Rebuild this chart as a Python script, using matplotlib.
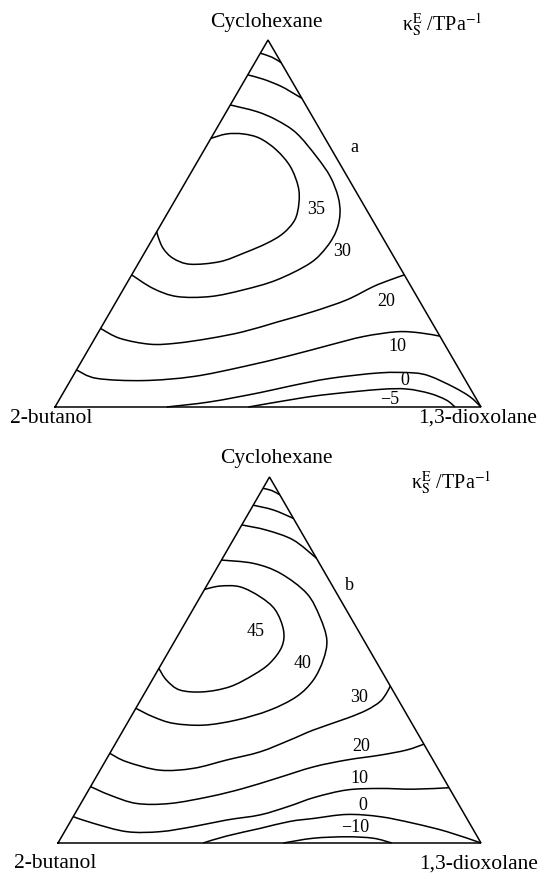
import numpy as np
import matplotlib
matplotlib.use("Agg")
import matplotlib.pyplot as plt
from matplotlib.path import Path
from matplotlib.patches import PathPatch

plt.rcParams['font.family'] = ['Liberation Serif', 'DejaVu Serif']
plt.rcParams['mathtext.fontset'] = 'stix'

# ---------------- data: contour lines as (cyclohexane, 1,3-dioxolane) mole fractions ----------------
# panel a
a_u1_cyc = [0.964, 0.953, 0.938]
a_u1_dio = [0.000, 0.033, 0.062]
a_u2_cyc = [0.905, 0.893, 0.875, 0.860, 0.841]
a_u2_dio = [0.000, 0.043, 0.091, 0.122, 0.159]
a_30_cyc = [0.823, 0.805, 0.782, 0.746, 0.682, 0.628, 0.573, 0.528, 0.482, 0.437, 0.392,
            0.346, 0.319, 0.301, 0.301, 0.323, 0.360]
a_30_dio = [0.000, 0.071, 0.129, 0.194, 0.273, 0.332, 0.378, 0.405, 0.420, 0.420, 0.403,
            0.347, 0.282, 0.214, 0.136, 0.069, 0.000]
a_35_cyc = [0.732, 0.744, 0.744, 0.732, 0.700, 0.655, 0.600, 0.555, 0.510, 0.473, 0.446,
            0.419, 0.396, 0.389, 0.405, 0.432, 0.464, 0.478]
a_35_dio = [0.000, 0.031, 0.070, 0.115, 0.170, 0.225, 0.271, 0.295, 0.308, 0.299, 0.274,
            0.233, 0.189, 0.123, 0.075, 0.038, 0.010, 0.000]
a_20_cyc = [0.214, 0.187, 0.171, 0.174, 0.187, 0.205, 0.232, 0.260, 0.292, 0.328, 0.346, 0.360]
a_20_dio = [0.000, 0.059, 0.138, 0.199, 0.270, 0.339, 0.407, 0.476, 0.539, 0.583, 0.613, 0.640]
a_10_cyc = [0.101, 0.078, 0.072, 0.083, 0.110, 0.140, 0.169, 0.192, 0.205, 0.202, 0.193]
a_10_dio = [0.000, 0.059, 0.171, 0.283, 0.387, 0.481, 0.561, 0.628, 0.700, 0.756, 0.807]
a_0_cyc = [0.000, 0.014, 0.039, 0.057, 0.078, 0.093, 0.093, 0.084, 0.055, 0.028, 0.000]
a_0_dio = [0.262, 0.357, 0.461, 0.523, 0.607, 0.716, 0.794, 0.838, 0.907, 0.960, 1.000]
a_m5_cyc = [0.000, 0.024, 0.035, 0.048, 0.049, 0.037, 0.019, 0.000]
a_m5_dio = [0.454, 0.563, 0.628, 0.739, 0.801, 0.861, 0.909, 0.939]

# panel b
b_u1_cyc = [0.969, 0.963, 0.951]
b_u1_dio = [0.000, 0.024, 0.049]
b_u2_cyc = [0.923, 0.910, 0.887]
b_u2_dio = [0.000, 0.054, 0.113]
b_u3_cyc = [0.869, 0.855, 0.828, 0.778]
b_u3_dio = [0.000, 0.065, 0.142, 0.222]
b_40_cyc = [0.773, 0.764, 0.737, 0.682, 0.618, 0.555, 0.500, 0.445, 0.400, 0.363, 0.336,
            0.322, 0.327, 0.345, 0.368]
b_40_dio = [0.000, 0.080, 0.157, 0.247, 0.310, 0.358, 0.377, 0.381, 0.364, 0.319, 0.254,
            0.183, 0.109, 0.052, 0.000]
b_45_cyc = [0.693, 0.702, 0.700, 0.673, 0.637, 0.582, 0.536, 0.491, 0.459, 0.427, 0.413,
            0.418, 0.445, 0.477]
b_45_dio = [0.000, 0.032, 0.080, 0.141, 0.195, 0.242, 0.261, 0.255, 0.232, 0.193, 0.137,
            0.079, 0.034, 0.000]
b_30_cyc = [0.245, 0.222, 0.199, 0.204, 0.227, 0.249, 0.281, 0.309, 0.341, 0.363, 0.386, 0.409, 0.429]
b_30_dio = [0.000, 0.051, 0.141, 0.218, 0.286, 0.353, 0.407, 0.450, 0.513, 0.548, 0.568, 0.572, 0.571]
b_20_cyc = [0.154, 0.131, 0.108, 0.108, 0.127, 0.149, 0.177, 0.208, 0.227, 0.240, 0.254, 0.270]
b_20_dio = [0.000, 0.057, 0.132, 0.211, 0.296, 0.363, 0.429, 0.500, 0.570, 0.641, 0.697, 0.730]
b_10_cyc = [0.072, 0.054, 0.031, 0.031, 0.045, 0.063, 0.077, 0.100, 0.125, 0.145, 0.149, 0.147, 0.151]
b_10_dio = [0.000, 0.056, 0.147, 0.226, 0.298, 0.368, 0.440, 0.495, 0.545, 0.611, 0.686, 0.767, 0.849]
b_0_cyc = [0.000, 0.019, 0.040, 0.059, 0.067, 0.078, 0.072, 0.054, 0.031, 0.000]
b_0_dio = [0.343, 0.389, 0.458, 0.519, 0.570, 0.644, 0.725, 0.813, 0.904, 1.000]
b_m10_cyc = [0.000, 0.013, 0.017, 0.013, 0.000]
b_m10_dio = [0.533, 0.597, 0.674, 0.739, 0.789]

components = ["Cyclohexane", "2-butanol", "1,3-dioxolane"]
a_levels = ["35", "30", "20", "10", "0", "\u22125"]
b_levels = ["45", "40", "30", "20", "10", "0", "\u221210"]

# ---------------- drawing ----------------
W, H = 540, 876
fig = plt.figure(figsize=(W / 100, H / 100), dpi=100)


def to_xy(cyc, dio):
    cyc = np.asarray(cyc, float)
    dio = np.asarray(dio, float)
    return dio + cyc / 2.0, cyc


def smooth_path(x, y):
    P = np.column_stack([x, y])
    n = len(P)
    Pe = np.vstack([P[0], P, P[-1]])
    verts = [P[0]]
    codes = [Path.MOVETO]
    for i in range(n - 1):
        p0, p1, p2, p3 = Pe[i], Pe[i + 1], Pe[i + 2], Pe[i + 3]
        verts += [p1 + (p2 - p0) / 6.0, p2 - (p3 - p1) / 6.0, p2]
        codes += [Path.CURVE4] * 3
    return Path(verts, codes)


def make_panel(left, right, base, apex, lines):
    ax = fig.add_axes([left / W, 1 - base / H, (right - left) / W, (base - apex) / H])
    ax.set_xlim(0, 1)
    ax.set_ylim(0, 1)
    ax.axis('off')
    tx, ty = to_xy([0, 1, 0, 0], [0, 0, 1, 0])
    ax.plot(tx, ty, color='black', lw=1.1, clip_on=False, solid_joinstyle='miter')
    for cyc, dio in lines:
        x, y = to_xy(cyc, dio)
        ax.add_patch(PathPatch(smooth_path(x, y), fill=False, ec='black', lw=1.1, clip_on=False))
    return ax


def ftext(px, py, s, size, **kw):
    fig.text(px / W, 1 - py / H, s, fontsize=size, ha=kw.pop('ha', 'center'),
             va=kw.pop('va', 'center'), **kw)


make_panel(55, 481, 407, 40, [(a_u1_cyc, a_u1_dio), (a_u2_cyc, a_u2_dio), (a_30_cyc, a_30_dio),
                              (a_35_cyc, a_35_dio), (a_20_cyc, a_20_dio), (a_10_cyc, a_10_dio),
                              (a_0_cyc, a_0_dio), (a_m5_cyc, a_m5_dio)])
make_panel(58, 481, 843, 477, [(b_u1_cyc, b_u1_dio), (b_u2_cyc, b_u2_dio), (b_u3_cyc, b_u3_dio),
                               (b_40_cyc, b_40_dio), (b_45_cyc, b_45_dio), (b_30_cyc, b_30_dio),
                               (b_20_cyc, b_20_dio), (b_10_cyc, b_10_dio), (b_0_cyc, b_0_dio),
                               (b_m10_cyc, b_m10_dio)])

name_fs = 15.5
lab_fs = 13
kappa = '\u03ba' + r'$_{\mathrm{S}}^{\mathrm{E}}$ ' + '/TPa' + r'$^{-1}$'

# panel a texts
ftext(266, 22, components[0], name_fs)
ftext(51, 418, components[1], name_fs)
ftext(478, 418, components[2], name_fs)
ftext(402, 25, kappa, 14.5, ha='left')
ftext(354, 147, "a", lab_fs)
for s, (px, py) in zip(a_levels, [(316.5, 209), (342.5, 252), (386, 301), (397.5, 346.5),
                                  (405, 380.5), (390, 400)]):
    ftext(px, py, s, lab_fs)

# panel b texts
ftext(276, 459, components[0], name_fs)
ftext(55, 863, components[1], name_fs)
ftext(479, 864, components[2], name_fs)
ftext(411, 483, kappa, 14.5, ha='left')
ftext(349, 585, "b", lab_fs)
for s, (px, py) in zip(b_levels, [(256, 631), (302.5, 664), (359.5, 698), (361, 746.5),
                                  (359.5, 778.5), (363, 805), (355, 827)]):
    ftext(px, py, s, lab_fs)

fig.savefig("out.png", dpi=100, facecolor='white')
